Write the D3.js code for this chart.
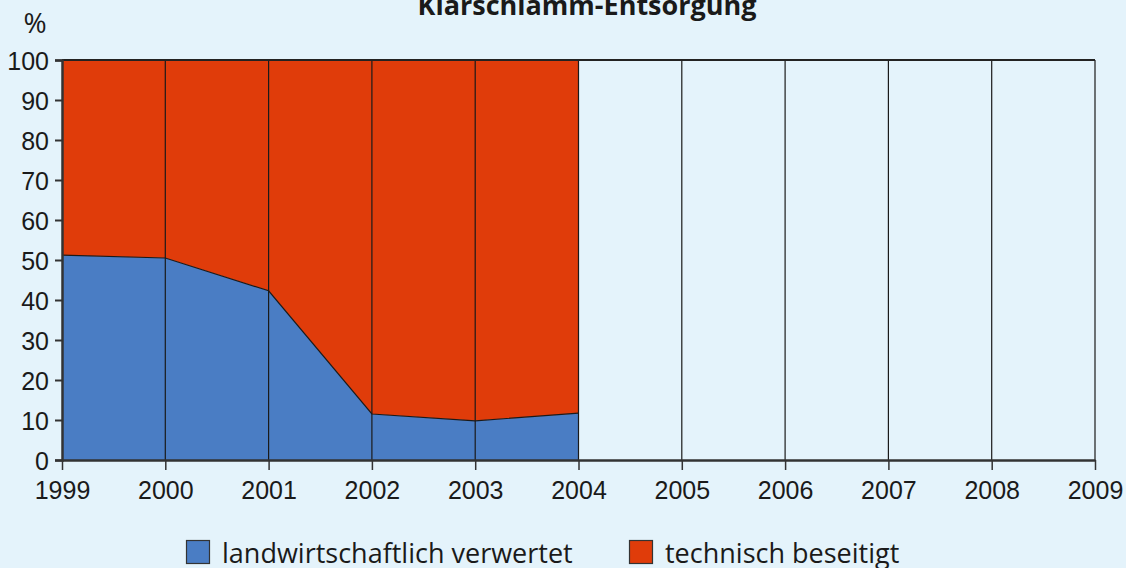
<!DOCTYPE html>
<html lang="de">

<head>
  <meta charset="UTF-8" />
  <title>Klärschlamm-Entsorgung</title>
  <script src="https://d3js.org/d3.v7.min.js"></script>
  <style>
    body {
      margin: 0;
      background: #e4f3fb;
      font-family: "Open Sans", Arial, sans-serif;
    }

    .axis-label {
      font-size: 25px;
      fill: #1a1a1a;
    }

    .legend-label {
      font-size: 27px;
      fill: #1a1a1a;
    }
  </style>
</head>

<body>
  <div id="chart"></div>
  <script>
    // Data
    const years = [1999, 2000, 2001, 2002, 2003, 2004];
    const agri = [51.2, 50.5, 42.3, 11.5, 9.8, 11.7];   // landwirtschaftlich verwertet
    const tech = [48.8, 49.5, 57.7, 88.5, 90.2, 88.3];  // technisch beseitigt
    const yearTicks = [1999, 2000, 2001, 2002, 2003, 2004, 2005, 2006, 2007, 2008, 2009];
    const yTicks = [0, 10, 20, 30, 40, 50, 60, 70, 80, 90, 100];
    const seriesNames = ["landwirtschaftlich verwertet", "technisch beseitigt"];
    const seriesColors = ["#4a7dc4", "#e03c0a"];

    const width = 1126, height = 568;
    const margin = { top: 60, right: 31, bottom: 108, left: 62 };

    const svg = d3.select("#chart")
      .append("svg")
      .attr("width", width)
      .attr("height", height);

    const x = d3.scaleLinear()
      .domain([1999, 2009])
      .range([margin.left, width - margin.right]);

    const y = d3.scaleLinear()
      .domain([0, 100])
      .range([height - margin.bottom, margin.top]);

    // title (cut off at the top like the original)
    svg.append("text")
      .attr("x", 587)
      .attr("y", 15)
      .attr("text-anchor", "middle")
      .attr("font-size", "27px")
      .attr("font-weight", "bold")
      .attr("fill", "#1a1a1a")
      .text("Klärschlamm-Entsorgung");

    svg.append("text")
      .attr("x", 35)
      .attr("y", 33)
      .attr("text-anchor", "middle")
      .attr("font-size", "28px")
      .attr("fill", "#1a1a1a")
      .text("%");

    // stacked areas
    const rows = years.map((yr, i) => ({ year: yr, agri: agri[i], tech: tech[i] }));
    const stacked = d3.stack().keys(["agri", "tech"])(rows);

    const area = d3.area()
      .x(d => x(d.data.year))
      .y0(d => y(d[0]))
      .y1(d => y(d[1]));

    svg.selectAll(".layer")
      .data(stacked)
      .enter()
      .append("path")
      .attr("class", "layer")
      .attr("d", area)
      .attr("fill", (d, i) => seriesColors[i]);

    // boundary line between the two areas
    svg.append("path")
      .datum(rows)
      .attr("fill", "none")
      .attr("stroke", "#1a1a1a")
      .attr("stroke-width", 1.2)
      .attr("d", d3.line().x(d => x(d.year)).y(d => y(d.agri)));

    // vertical grid lines
    svg.append("g")
      .selectAll("line")
      .data(yearTicks.slice(1))
      .enter()
      .append("line")
      .attr("x1", d => x(d))
      .attr("x2", d => x(d))
      .attr("y1", y(100))
      .attr("y2", y(0))
      .attr("stroke", "#1a1a1a")
      .attr("stroke-width", 1.2);

    // top border
    svg.append("line")
      .attr("x1", x(1999))
      .attr("x2", x(2009))
      .attr("y1", y(100))
      .attr("y2", y(100))
      .attr("stroke", "#222")
      .attr("stroke-width", 2);

    // y axis
    svg.append("g")
      .attr("transform", `translate(${margin.left},0)`)
      .call(d3.axisLeft(y).tickValues(yTicks).tickSize(7).tickPadding(6))
      .call(g => g.select(".domain").attr("stroke", "#333").attr("stroke-width", 2.5))
      .call(g => g.selectAll(".tick line").attr("stroke", "#333").attr("stroke-width", 2))
      .call(g => g.selectAll("text").attr("class", "axis-label").attr("dy", "0.36em"));

    // x axis
    svg.append("g")
      .attr("transform", `translate(0,${height - margin.bottom})`)
      .call(d3.axisBottom(x).tickValues(yearTicks).tickFormat(d3.format("d")).tickSize(10).tickSizeOuter(0).tickPadding(11))
      .call(g => g.select(".domain").attr("stroke", "#333").attr("stroke-width", 2.5))
      .call(g => g.selectAll(".tick line").attr("stroke", "#333").attr("stroke-width", 1.5))
      .call(g => g.selectAll("text").attr("class", "axis-label"));

    // legend
    const legendX = [186, 629];
    const legend = svg.append("g")
      .selectAll("g")
      .data(seriesNames)
      .enter()
      .append("g")
      .attr("transform", (d, i) => `translate(${legendX[i]},540)`);

    legend.append("rect")
      .attr("width", 23)
      .attr("height", 23)
      .attr("x", 0.5)
      .attr("y", 0.5)
      .attr("fill", (d, i) => seriesColors[i])
      .attr("stroke", "#333")
      .attr("stroke-width", 1.2);

    legend.append("text")
      .attr("class", "legend-label")
      .attr("x", 36)
      .attr("y", 23)
      .text(d => d);
  </script>
</body>

</html>
